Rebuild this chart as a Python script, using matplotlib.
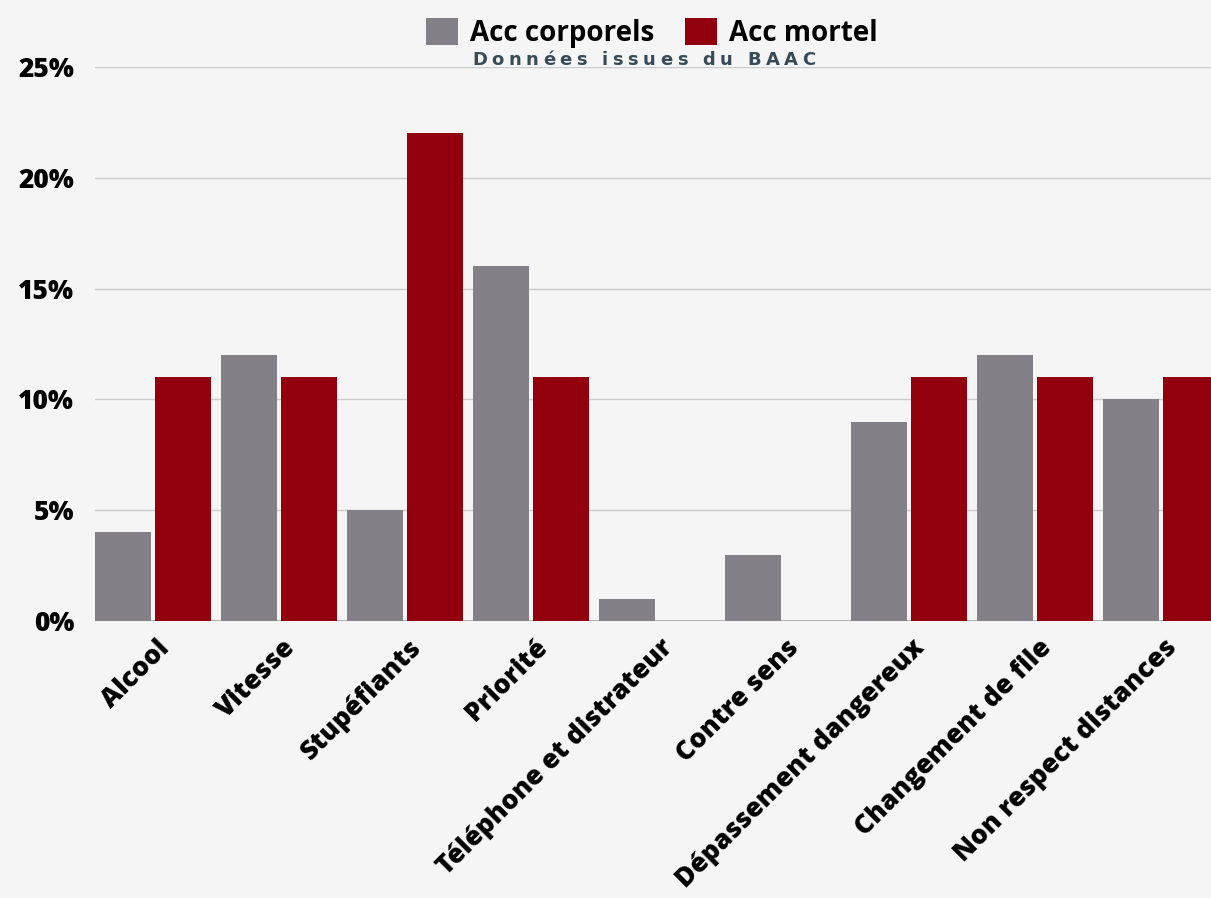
import numpy as np
import matplotlib
matplotlib.use("Agg")
import matplotlib.pyplot as plt
import matplotlib.transforms as mtrans

# ---- data ----
categories = ["Alcool", "Vitesse", "Stupéfiants", "Priorité", "Téléphone et distrateur",
              "Contre sens", "Dépassement dangereux", "Changement de file", "Non respect distances"]
acc_corporels = [4, 12, 5, 16, 1, 3, 9, 12, 10]
acc_mortel = [11, 11, 22, 11, 0, 0, 11, 11, 11]
yticks = [0, 5, 10, 15, 20, 25]
ytick_labels = ["0%", "5%", "10%", "15%", "20%", "25%"]
series_names = ["Acc corporels", "Acc mortel"]
subtitle = "Données issues du BAAC"

# ---- style ----
bg = "#f5f5f5"
gray = "#838087"
red = "#92000e"
W, H = 1211, 898

fig = plt.figure(figsize=(W / 100, H / 100), dpi=100, facecolor=bg)
ax = fig.add_axes([95 / W, (H - 621) / H, 1 - 95 / W, (621 - 67) / H])
ax.set_facecolor(bg)

x = np.arange(len(categories))
off = 30 / 126
bw = 56 / 126
b1 = ax.bar(x - off, acc_corporels, bw, color=gray, zorder=3, label=series_names[0])
b2 = ax.bar(x + off, acc_mortel, bw, color=red, zorder=3, label=series_names[1])

ax.set_xlim((95 - 153) / 126, (1211 - 153) / 126)
ax.set_ylim(0, 25)
ax.set_yticks(yticks)
ax.set_yticklabels(ytick_labels, fontsize=19, fontweight="heavy", family="Open Sans")
ax.tick_params(axis="y", length=0, pad=15)
ax.grid(axis="y", color="#cccccc", lw=1, zorder=0)
ax.axhline(0, color="#aaaaaa", lw=2, zorder=2)

ax.set_xticks(x)
ax.set_xticklabels(categories, rotation=45, ha="right", rotation_mode="anchor",
                   fontsize=19, fontweight="heavy", family="Open Sans")
ax.tick_params(axis="x", length=0, pad=10)
for lab in ax.get_xticklabels():
    lab.set_transform(lab.get_transform() + mtrans.ScaledTranslation(3 / 100, 0, fig.dpi_scale_trans))

for s in ax.spines.values():
    s.set_visible(False)

fig.legend(handles=[b1, b2], loc="center", bbox_to_anchor=(652 / W, 1 - 33 / H), ncol=2,
           frameon=False, prop={"family": "Open Sans", "weight": "bold", "size": 20},
           handlelength=1.15, handleheight=1.15, handletextpad=0.43, columnspacing=1.1,
           borderpad=0, borderaxespad=0)

# letter-spaced subtitle
r = fig.canvas.get_renderer()
px = 472
spacing = 4.5
for ch in subtitle:
    if ch == " ":
        px += 6 + spacing
        continue
    t = fig.text(px / W, 1 - 60 / H, ch, fontsize=13, fontweight="bold", family="DejaVu Sans",
                 color="#384a55", va="center", ha="left")
    px += t.get_window_extent(r).width + spacing

fig.savefig("out.png", dpi=100, facecolor=bg)
